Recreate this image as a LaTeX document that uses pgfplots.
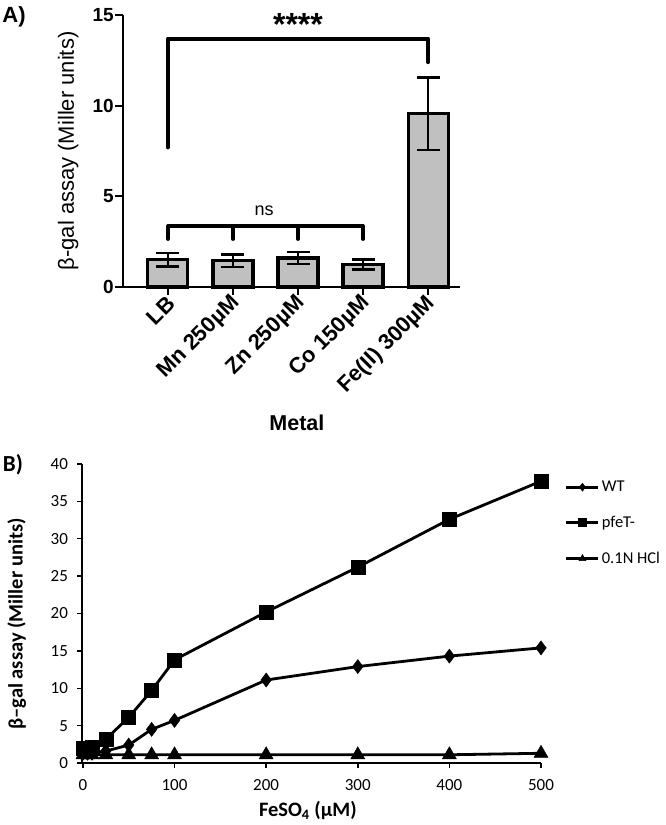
\documentclass[border=0pt]{standalone}
\usepackage{fontspec}
\usepackage{pgfplots}
\pgfplotsset{compat=1.18}
\newfontfamily\arial{Liberation Sans}
\newfontfamily\calibri{Carlito}
\definecolor{bargray}{RGB}{192,192,192}
\begin{document}
\begin{tikzpicture}
\useasboundingbox (0,0) rectangle (666pt,825pt);
\begin{axis}[
  at={(123pt,538pt)}, anchor=south west, scale only axis,
  width=337pt, height=272pt,
  xmin=-0.69, xmax=4.49, ymin=0, ymax=15,
  axis x line*=bottom, axis y line*=left,
  axis line style={line width=2pt},
  ytick={0,5,10,15}, xtick={0,1,2,3,4},
  xticklabels={LB, Mn 250µM, Zn 250µM, Co 150µM, Fe(II) 300µM},
  tick align=outside, major tick length=8pt,
  tick style={line width=2pt, black},
  /pgf/number format/assume math mode=true,
  yticklabel style={font=\arial\bfseries\fontsize{19}{22}\selectfont, inner sep=1pt},
  xticklabel style={font=\arial\bfseries\fontsize{22}{26}\selectfont, rotate=45, anchor=east, inner sep=1pt, yshift=-6pt},
  ylabel={β-gal assay (Miller units)},
  ylabel style={font=\arial\fontsize{22}{26}\selectfont, at={(rel axis cs:-0.163,0.5)}, anchor=center},
  xlabel={Metal},
  xlabel style={font=\arial\bfseries\fontsize{21.5}{26}\selectfont, at={(rel axis cs:0.516,-0.5)}, anchor=center},
  clip=false,
]
\addplot[ybar, bar width=40pt, fill=bargray, draw=black, line width=3.2pt,
  error bars/.cd, y dir=both, y explicit,
  error bar style={line width=2pt, black},
  error mark options={rotate=90, line width=2.5pt, mark size=11.5pt, black}]
  coordinates {(0,1.50) +- (0,0.37) (1,1.45) +- (0,0.35) (2,1.60) +- (0,0.33) (3,1.25) +- (0,0.28) (4,9.55) +- (0,2.0)};
\addplot[black, line width=4pt, line join=round, line cap=round] coordinates {(0,7.7) (0,13.7) (4,13.7) (4,12.4)};
\addplot[black, line width=4pt, line join=round, line cap=round] coordinates {(0,2.65) (0,3.35) (3,3.35) (3,2.65)};
\addplot[black, line width=4pt, line cap=round] coordinates {(1,3.35) (1,2.65)};
\addplot[black, line width=4pt, line cap=round] coordinates {(2,3.35) (2,2.65)};
\node[font=\arial\bfseries\fontsize{32}{36}\selectfont] at (axis cs:2,14.45) {****};
\node[font=\arial\fontsize{18}{22}\selectfont] at (axis cs:1.48,4.2) {ns};
\end{axis}
\node[font=\arial\bfseries\fontsize{22}{26}\selectfont] at (14pt,808pt) {A)};
\node[font=\calibri\bfseries\fontsize{23}{26}\selectfont] at (13pt,360pt) {B)};
\begin{axis}[
  at={(82pt,62pt)}, anchor=south west, scale only axis,
  width=459pt, height=299pt,
  xmin=-1, xmax=500, ymin=0, ymax=40,
  axis x line*=bottom, axis y line*=left,
  axis line style={line width=1.8pt},
  xtick={0,100,200,300,400,500}, ytick={0,5,10,15,20,25,30,35,40},
  tick align=outside, major tick length=4.5pt,
  tick style={line width=1.5pt, black},
  /pgf/number format/assume math mode=true,
  ticklabel style={font=\calibri\fontsize{17}{20}\selectfont},
  yticklabel style={xshift=-6pt},
  xticklabel style={yshift=-8pt},
  ylabel={β–gal assay (Miller units)},
  ylabel style={font=\calibri\bfseries\fontsize{20.5}{24}\selectfont, at={(rel axis cs:-0.142,0.465)}, anchor=center},
  xlabel={FeSO\textsubscript{4} (µM)},
  xlabel style={font=\calibri\bfseries\fontsize{20.5}{24}\selectfont, at={(rel axis cs:0.492,-0.16)}, anchor=center},
  legend style={at={(rel axis cs:1.052,0.95)}, anchor=north west, draw=none, fill=none,
    font=\calibri\fontsize{16.5}{20}\selectfont, row sep=19pt, inner sep=0pt, cells={anchor=west}},
  legend image code/.code={\draw[mark repeat=2,mark phase=2,#1,mark size=4pt] plot coordinates {(0pt,0pt) (16pt,0pt) (32pt,0pt)};},
  clip=false,
]
\addplot[black, line width=2.8pt, mark=diamond*, mark size=7pt, mark options={line width=0.5pt}]
  coordinates {(0,1.3) (5,1.3) (10,1.3) (25,1.6) (50,2.4) (75,4.5) (100,5.7) (200,11.1) (300,12.9) (400,14.3) (500,15.4)};
\addlegendentry{WT}
\addplot[black, line width=2.8pt, mark=square*, mark size=7pt, mark options={line width=0.5pt}]
  coordinates {(0,2.0) (5,2.0) (10,2.1) (25,3.2) (50,6.1) (75,9.7) (100,13.8) (200,20.2) (300,26.2) (400,32.6) (500,37.7)};
\addlegendentry{pfeT-}
\addplot[black, line width=2.8pt, mark=triangle*, mark size=8pt, mark options={line width=0.5pt}]
  coordinates {(0,1.1) (5,1.1) (10,1.1) (25,1.1) (50,1.1) (75,1.1) (100,1.1) (200,1.1) (300,1.1) (400,1.1) (500,1.3)};
\addlegendentry{0.1N HCl}
\end{axis}
\end{tikzpicture}
\end{document}
